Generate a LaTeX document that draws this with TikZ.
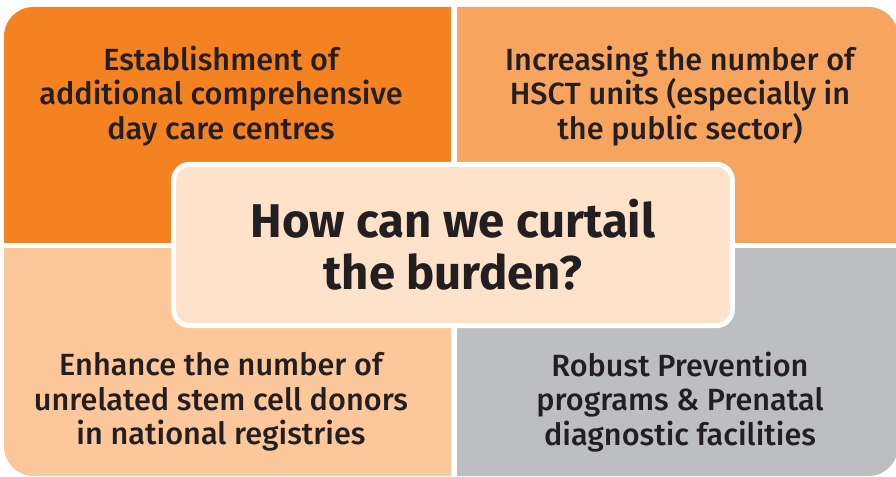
\documentclass[tikz,border=0pt]{standalone}
\usepackage{fontspec}
\setmainfont{Fira Sans Medium}[BoldFont=Fira Sans Bold]
\usetikzlibrary{calc}
\definecolor{tlorange}{HTML}{F48221}
\definecolor{trorange}{HTML}{F7A55E}
\definecolor{blpeach}{HTML}{FCC79A}
\definecolor{brgrey}{HTML}{BDBEC1}
\definecolor{midfill}{HTML}{FFE2CA}
\definecolor{ink}{HTML}{231F20}

\begin{document}
\begin{tikzpicture}[x=0.75pt,y=-0.75pt,
	quad/.style={align=center,text=ink,font=\fontsize{23}{26}\selectfont},
	hub/.style={draw=white,line width=3.75pt,fill=midfill,rounded corners=12pt,
		minimum width=419pt,minimum height=121pt,align=center,text=ink,
		font=\bfseries\fontsize{35.5}{39}\selectfont}]
	\useasboundingbox (0,0) rectangle (896,477);
	\begin{scope}
		\clip[rounded corners=22pt] (4,7) rectangle (898,476);
		\fill[tlorange] (0,0) rectangle (451,243);
		\fill[trorange] (457,0) rectangle (900,243);
		\fill[blpeach] (0,248) rectangle (451,480);
		\fill[brgrey] (457,248) rectangle (900,480);
	\end{scope}
	
	\node[quad] (tl) at (221,96) {Establishment of\\additional comprehensive\\day care centres};
	\node[quad] (tr) at (680,96) {Increasing the number of\\HSCT units (especially in\\the public sector)};
	\node[quad] (bl) at (221,402) {Enhance the number of\\unrelated stem cell donors\\in national registries};
	\node[quad] (br) at (680,402) {Robust Prevention\\programs \& Prenatal\\diagnostic facilities};
	
	\node[hub] (hub) at (453,245) {How can we curtail\\the burden?};
\end{tikzpicture}
\end{document}
